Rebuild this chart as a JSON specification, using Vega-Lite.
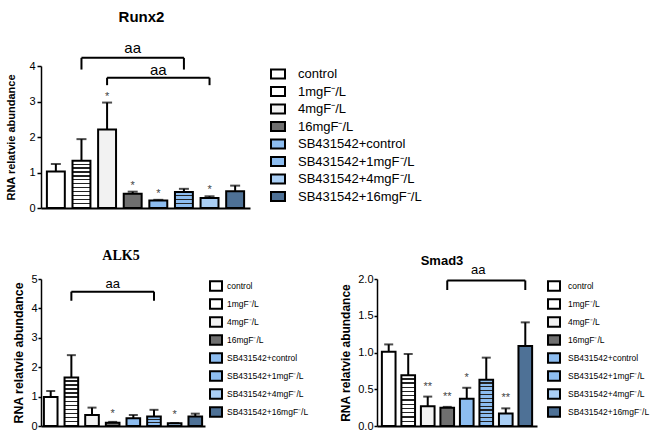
{
  "$schema": "https://vega.github.io/schema/vega-lite/v6.json",
  "background": "white",
  "padding": {"left": 5, "top": 9, "right": 0, "bottom": 5},
  "config": {
    "view": {"stroke": null},
    "font": "Liberation Sans",
    "axis": {"grid": false, "domainColor": "black", "tickColor": "black", "labelColor": "black", "titleColor": "black", "domainWidth": 1.5, "tickWidth": 1.5},
    "title": {"color": "black"}
  },
  "spacing": 36,
  "vconcat": [
    {
      "title": {"text": "Runx2", "font": "Liberation Sans", "fontSize": 15, "fontWeight": "bold", "frame": "group", "anchor": "middle", "offset": 16, "dx": -4},
      "width": 209,
      "height": 142,
      "data": {"values": [
        {"g": "control", "v": 1.03, "hi": 1.24, "sig": ""},
        {"g": "1mgF⁻/L", "v": 1.33, "hi": 1.94, "sig": ""},
        {"g": "4mgF⁻/L", "v": 2.21, "hi": 2.97, "sig": "*"},
        {"g": "16mgF⁻/L", "v": 0.40, "hi": 0.46, "sig": "*"},
        {"g": "SB431542+control", "v": 0.21, "hi": 0.23, "sig": "*"},
        {"g": "SB431542+1mgF⁻/L", "v": 0.45, "hi": 0.54, "sig": ""},
        {"g": "SB431542+4mgF⁻/L", "v": 0.28, "hi": 0.33, "sig": "*"},
        {"g": "SB431542+16mgF⁻/L", "v": 0.47, "hi": 0.63, "sig": ""}
      ]},
      "layer": [
        {
          "mark": {"type": "bar", "stroke": "black", "strokeWidth": 2},
          "encoding": {
            "x": {"field": "g", "type": "nominal", "scale": {"domain": ["control", "1mgF⁻/L", "4mgF⁻/L", "16mgF⁻/L", "SB431542+control", "SB431542+1mgF⁻/L", "SB431542+4mgF⁻/L", "SB431542+16mgF⁻/L"], "paddingInner": 0.3, "paddingOuter": 0.23}, "axis": {"labels": false, "ticks": false, "title": null, "domainColor": "black", "domainWidth": 2}},
            "y": {"field": "v", "type": "quantitative", "scale": {"domain": [0, 4], "nice": false}, "axis": {"title": "RNA relatvie abundance", "values": [0, 1, 2, 3, 4], "titleFontSize": 11, "titleFontWeight": "bold", "titleFont": "Liberation Sans", "titlePadding": 12, "labelFontSize": 11, "labelFont": "Liberation Sans", "tickSize": 4, "labelPadding": 2}},
            "fill": {
              "field": "g", "type": "nominal",
              "scale": {"domain": ["control", "1mgF⁻/L", "4mgF⁻/L", "16mgF⁻/L", "SB431542+control", "SB431542+1mgF⁻/L", "SB431542+4mgF⁻/L", "SB431542+16mgF⁻/L"], "range": ["#ffffff", "#ffffff", "#f2f2f2", "#6f6f6f", "#8dbdf0", "#8dbdf0", "#aacff5", "#4e7196"]},
              "condition": [
                {"test": "datum.g === '1mgF⁻/L'", "value": {"gradient": "linear", "x1": 0, "y1": 0, "x2": 0, "y2": 1, "stops": [
                  {"offset": 0, "color": "#ffffff"}, {"offset": 0.058, "color": "#ffffff"}, {"offset": 0.058, "color": "#222222"}, {"offset": 0.0833, "color": "#222222"},
                  {"offset": 0.0833, "color": "#ffffff"}, {"offset": 0.1417, "color": "#ffffff"}, {"offset": 0.1417, "color": "#222222"}, {"offset": 0.1667, "color": "#222222"},
                  {"offset": 0.1667, "color": "#ffffff"}, {"offset": 0.225, "color": "#ffffff"}, {"offset": 0.225, "color": "#222222"}, {"offset": 0.25, "color": "#222222"},
                  {"offset": 0.25, "color": "#ffffff"}, {"offset": 0.3083, "color": "#ffffff"}, {"offset": 0.3083, "color": "#222222"}, {"offset": 0.3333, "color": "#222222"},
                  {"offset": 0.3333, "color": "#ffffff"}, {"offset": 0.3917, "color": "#ffffff"}, {"offset": 0.3917, "color": "#222222"}, {"offset": 0.4167, "color": "#222222"},
                  {"offset": 0.4167, "color": "#ffffff"}, {"offset": 0.475, "color": "#ffffff"}, {"offset": 0.475, "color": "#222222"}, {"offset": 0.5, "color": "#222222"},
                  {"offset": 0.5, "color": "#ffffff"}, {"offset": 0.5583, "color": "#ffffff"}, {"offset": 0.5583, "color": "#222222"}, {"offset": 0.5833, "color": "#222222"},
                  {"offset": 0.5833, "color": "#ffffff"}, {"offset": 0.6417, "color": "#ffffff"}, {"offset": 0.6417, "color": "#222222"}, {"offset": 0.6667, "color": "#222222"},
                  {"offset": 0.6667, "color": "#ffffff"}, {"offset": 0.725, "color": "#ffffff"}, {"offset": 0.725, "color": "#222222"}, {"offset": 0.75, "color": "#222222"},
                  {"offset": 0.75, "color": "#ffffff"}, {"offset": 0.8083, "color": "#ffffff"}, {"offset": 0.8083, "color": "#222222"}, {"offset": 0.8333, "color": "#222222"},
                  {"offset": 0.8333, "color": "#ffffff"}, {"offset": 0.8917, "color": "#ffffff"}, {"offset": 0.8917, "color": "#222222"}, {"offset": 0.9167, "color": "#222222"},
                  {"offset": 0.9167, "color": "#ffffff"}, {"offset": 0.975, "color": "#ffffff"}, {"offset": 0.975, "color": "#222222"}, {"offset": 1, "color": "#222222"}]}},
                {"test": "datum.g === 'SB431542+1mgF⁻/L'", "value": {"gradient": "linear", "x1": 0, "y1": 0, "x2": 0, "y2": 1, "stops": [
                  {"offset": 0, "color": "#8dbdf0"}, {"offset": 0.175, "color": "#8dbdf0"}, {"offset": 0.175, "color": "#222222"}, {"offset": 0.25, "color": "#222222"},
                  {"offset": 0.25, "color": "#8dbdf0"}, {"offset": 0.425, "color": "#8dbdf0"}, {"offset": 0.425, "color": "#222222"}, {"offset": 0.5, "color": "#222222"},
                  {"offset": 0.5, "color": "#8dbdf0"}, {"offset": 0.675, "color": "#8dbdf0"}, {"offset": 0.675, "color": "#222222"}, {"offset": 0.75, "color": "#222222"},
                  {"offset": 0.75, "color": "#8dbdf0"}, {"offset": 0.925, "color": "#8dbdf0"}, {"offset": 0.925, "color": "#222222"}, {"offset": 1, "color": "#222222"}]}}
              ],
              "legend": {
                "title": null, "orient": "right", "offset": 20, "padding": 0,
                "symbolType": "M-1,-0.65H1V0.65H-1Z", "symbolSize": 196, "symbolStrokeColor": "black", "symbolStrokeWidth": 2,
                "labelFont": "Liberation Sans", "labelFontSize": 13, "labelColor": "black", "labelOffset": 12, "rowPadding": -0.5
              }
            }
          }
        },
        {"mark": {"type": "rule", "strokeWidth": 2, "color": "black"}, "encoding": {"x": {"field": "g", "type": "nominal", "axis": {"title": null}}, "y": {"field": "v", "type": "quantitative", "axis": {"title": "RNA relatvie abundance", "values": [0, 1, 2, 3, 4]}}, "y2": {"field": "hi"}}},
        {"mark": {"type": "tick", "thickness": 2, "size": 10, "color": "black"}, "encoding": {"x": {"field": "g", "type": "nominal", "axis": {"title": null}}, "y": {"field": "hi", "type": "quantitative", "axis": {"title": "RNA relatvie abundance", "values": [0, 1, 2, 3, 4]}}}},
        {"mark": {"type": "text", "fontSize": 11, "color": "#444444", "baseline": "middle", "dy": -6}, "encoding": {"x": {"field": "g", "type": "nominal", "axis": {"title": null}}, "y": {"field": "hi", "type": "quantitative", "axis": {"title": "RNA relatvie abundance", "values": [0, 1, 2, 3, 4]}}, "text": {"field": "sig"}}},
        {"data": {"values": [
          {"from": "1mgF⁻/L", "to": "SB431542+1mgF⁻/L", "mid": "16mgF⁻/L", "top": 4.23, "bot": 3.9, "ty": 4.51, "label": "aa"},
          {"from": "4mgF⁻/L", "to": "SB431542+4mgF⁻/L", "mid": "SB431542+control", "top": 3.67, "bot": 3.46, "ty": 3.9, "label": "aa"}
        ]},
          "layer": [
            {"mark": {"type": "rule", "strokeWidth": 2, "color": "black"}, "encoding": {"x": {"field": "from", "type": "nominal", "axis": {"title": null}, "bandPosition": 0.5}, "x2": {"field": "to", "bandPosition": 0.5}, "y": {"field": "top", "type": "quantitative", "axis": {"title": "RNA relatvie abundance", "values": [0, 1, 2, 3, 4]}}}},
            {"mark": {"type": "rule", "strokeWidth": 2, "color": "black"}, "encoding": {"x": {"field": "from", "type": "nominal", "axis": {"title": null}}, "y": {"field": "top", "type": "quantitative", "axis": {"title": "RNA relatvie abundance", "values": [0, 1, 2, 3, 4]}}, "y2": {"field": "bot"}}},
            {"mark": {"type": "rule", "strokeWidth": 2, "color": "black"}, "encoding": {"x": {"field": "to", "type": "nominal", "axis": {"title": null}}, "y": {"field": "top", "type": "quantitative", "axis": {"title": "RNA relatvie abundance", "values": [0, 1, 2, 3, 4]}}, "y2": {"field": "bot"}}},
            {"mark": {"type": "text", "fontSize": 15, "color": "black", "baseline": "middle", "font": "Liberation Sans"}, "encoding": {"x": {"field": "mid", "type": "nominal", "axis": {"title": null}}, "y": {"field": "ty", "type": "quantitative", "axis": {"title": "RNA relatvie abundance", "values": [0, 1, 2, 3, 4]}}, "text": {"field": "label"}}}
          ]
        }
      ]
    },
    {
      "spacing": 30,
      "hconcat": [
        {
          "title": {"text": "ALK5", "font": "Liberation Serif", "fontSize": 14, "fontWeight": "bold", "frame": "group", "anchor": "middle", "offset": 10, "dx": -2},
          "width": 164,
          "height": 147,
          "data": {"values": [
            {"g": "control", "v": 0.99, "hi": 1.19, "sig": ""},
            {"g": "1mgF⁻/L", "v": 1.65, "hi": 2.41, "sig": ""},
            {"g": "4mgF⁻/L", "v": 0.375, "hi": 0.625, "sig": ""},
            {"g": "16mgF⁻/L", "v": 0.11, "hi": 0.14, "sig": "*"},
            {"g": "SB431542+control", "v": 0.26, "hi": 0.375, "sig": ""},
            {"g": "SB431542+1mgF⁻/L", "v": 0.32, "hi": 0.55, "sig": ""},
            {"g": "SB431542+4mgF⁻/L", "v": 0.09, "hi": 0.1, "sig": "*"},
            {"g": "SB431542+16mgF⁻/L", "v": 0.32, "hi": 0.42, "sig": ""}
          ]},
          "layer": [
            {
              "mark": {"type": "bar", "stroke": "black", "strokeWidth": 2},
              "encoding": {
                "x": {"field": "g", "type": "nominal", "scale": {"domain": ["control", "1mgF⁻/L", "4mgF⁻/L", "16mgF⁻/L", "SB431542+control", "SB431542+1mgF⁻/L", "SB431542+4mgF⁻/L", "SB431542+16mgF⁻/L"], "paddingInner": 0.34, "paddingOuter": 0.14}, "axis": {"labels": false, "ticks": false, "title": null, "domainColor": "black", "domainWidth": 2}},
                "y": {"field": "v", "type": "quantitative", "scale": {"domain": [0, 5], "nice": false}, "axis": {"title": "RNA relatvie abundance", "values": [0, 1, 2, 3, 4, 5], "titleFontSize": 12.3, "titleFontWeight": "bold", "titleFont": "Liberation Sans", "titlePadding": 5, "labelFontSize": 11, "labelFont": "Liberation Sans", "tickSize": 3, "labelPadding": 1}},
                "fill": {
                  "field": "g", "type": "nominal",
                  "scale": {"domain": ["control", "1mgF⁻/L", "4mgF⁻/L", "16mgF⁻/L", "SB431542+control", "SB431542+1mgF⁻/L", "SB431542+4mgF⁻/L", "SB431542+16mgF⁻/L"], "range": ["#ffffff", "#ffffff", "#f2f2f2", "#6f6f6f", "#8dbdf0", "#8dbdf0", "#aacff5", "#4e7196"]},
                  "condition": [
                    {"test": "datum.g === '1mgF⁻/L'", "value": {"gradient": "linear", "x1": 0, "y1": 0, "x2": 0, "y2": 1, "stops": [
                      {"offset": 0, "color": "#ffffff"}, {"offset": 0.058, "color": "#ffffff"}, {"offset": 0.058, "color": "#222222"}, {"offset": 0.0833, "color": "#222222"},
                      {"offset": 0.0833, "color": "#ffffff"}, {"offset": 0.1417, "color": "#ffffff"}, {"offset": 0.1417, "color": "#222222"}, {"offset": 0.1667, "color": "#222222"},
                      {"offset": 0.1667, "color": "#ffffff"}, {"offset": 0.225, "color": "#ffffff"}, {"offset": 0.225, "color": "#222222"}, {"offset": 0.25, "color": "#222222"},
                      {"offset": 0.25, "color": "#ffffff"}, {"offset": 0.3083, "color": "#ffffff"}, {"offset": 0.3083, "color": "#222222"}, {"offset": 0.3333, "color": "#222222"},
                      {"offset": 0.3333, "color": "#ffffff"}, {"offset": 0.3917, "color": "#ffffff"}, {"offset": 0.3917, "color": "#222222"}, {"offset": 0.4167, "color": "#222222"},
                      {"offset": 0.4167, "color": "#ffffff"}, {"offset": 0.475, "color": "#ffffff"}, {"offset": 0.475, "color": "#222222"}, {"offset": 0.5, "color": "#222222"},
                      {"offset": 0.5, "color": "#ffffff"}, {"offset": 0.5583, "color": "#ffffff"}, {"offset": 0.5583, "color": "#222222"}, {"offset": 0.5833, "color": "#222222"},
                      {"offset": 0.5833, "color": "#ffffff"}, {"offset": 0.6417, "color": "#ffffff"}, {"offset": 0.6417, "color": "#222222"}, {"offset": 0.6667, "color": "#222222"},
                      {"offset": 0.6667, "color": "#ffffff"}, {"offset": 0.725, "color": "#ffffff"}, {"offset": 0.725, "color": "#222222"}, {"offset": 0.75, "color": "#222222"},
                      {"offset": 0.75, "color": "#ffffff"}, {"offset": 0.8083, "color": "#ffffff"}, {"offset": 0.8083, "color": "#222222"}, {"offset": 0.8333, "color": "#222222"},
                      {"offset": 0.8333, "color": "#ffffff"}, {"offset": 0.8917, "color": "#ffffff"}, {"offset": 0.8917, "color": "#222222"}, {"offset": 0.9167, "color": "#222222"},
                      {"offset": 0.9167, "color": "#ffffff"}, {"offset": 0.975, "color": "#ffffff"}, {"offset": 0.975, "color": "#222222"}, {"offset": 1, "color": "#222222"}]}},
                    {"test": "datum.g === 'SB431542+1mgF⁻/L'", "value": {"gradient": "linear", "x1": 0, "y1": 0, "x2": 0, "y2": 1, "stops": [
                      {"offset": 0, "color": "#8dbdf0"}, {"offset": 0.233, "color": "#8dbdf0"}, {"offset": 0.233, "color": "#222222"}, {"offset": 0.333, "color": "#222222"},
                      {"offset": 0.333, "color": "#8dbdf0"}, {"offset": 0.567, "color": "#8dbdf0"}, {"offset": 0.567, "color": "#222222"}, {"offset": 0.667, "color": "#222222"},
                      {"offset": 0.667, "color": "#8dbdf0"}, {"offset": 0.9, "color": "#8dbdf0"}, {"offset": 0.9, "color": "#222222"}, {"offset": 1, "color": "#222222"}]}}
                  ],
                  "legend": {
                    "title": null, "orient": "right", "offset": 4, "padding": 0,
                    "symbolType": "M-1,-0.8H1V0.8H-1Z", "symbolSize": 144, "symbolStrokeColor": "black", "symbolStrokeWidth": 2,
                    "labelFont": "Liberation Sans", "labelFontSize": 8.5, "labelColor": "black", "labelOffset": 4, "rowPadding": 0
                  }
                }
              }
            },
            {"mark": {"type": "rule", "strokeWidth": 2, "color": "black"}, "encoding": {"x": {"field": "g", "type": "nominal", "axis": {"title": null}}, "y": {"field": "v", "type": "quantitative", "axis": {"title": "RNA relatvie abundance", "values": [0, 1, 2, 3, 4, 5]}}, "y2": {"field": "hi"}}},
            {"mark": {"type": "tick", "thickness": 2, "size": 9, "color": "black"}, "encoding": {"x": {"field": "g", "type": "nominal", "axis": {"title": null}}, "y": {"field": "hi", "type": "quantitative", "axis": {"title": "RNA relatvie abundance", "values": [0, 1, 2, 3, 4, 5]}}}},
            {"mark": {"type": "text", "fontSize": 11, "color": "#444444", "baseline": "middle", "dy": -8}, "encoding": {"x": {"field": "g", "type": "nominal", "axis": {"title": null}}, "y": {"field": "hi", "type": "quantitative", "axis": {"title": "RNA relatvie abundance", "values": [0, 1, 2, 3, 4, 5]}}, "text": {"field": "sig"}}},
            {"data": {"values": [
              {"from": "1mgF⁻/L", "to": "SB431542+1mgF⁻/L", "mid": "16mgF⁻/L", "top": 4.57, "bot": 4.26, "ty": 4.83, "label": "aa"}
            ]},
              "layer": [
                {"mark": {"type": "rule", "strokeWidth": 2, "color": "black"}, "encoding": {"x": {"field": "from", "type": "nominal", "axis": {"title": null}, "bandPosition": 0.5}, "x2": {"field": "to", "bandPosition": 0.5}, "y": {"field": "top", "type": "quantitative", "axis": {"title": "RNA relatvie abundance", "values": [0, 1, 2, 3, 4, 5]}}}},
                {"mark": {"type": "rule", "strokeWidth": 2, "color": "black"}, "encoding": {"x": {"field": "from", "type": "nominal", "axis": {"title": null}}, "y": {"field": "top", "type": "quantitative", "axis": {"title": "RNA relatvie abundance", "values": [0, 1, 2, 3, 4, 5]}}, "y2": {"field": "bot"}}},
                {"mark": {"type": "rule", "strokeWidth": 2, "color": "black"}, "encoding": {"x": {"field": "to", "type": "nominal", "axis": {"title": null}}, "y": {"field": "top", "type": "quantitative", "axis": {"title": "RNA relatvie abundance", "values": [0, 1, 2, 3, 4, 5]}}, "y2": {"field": "bot"}}},
                {"mark": {"type": "text", "fontSize": 13, "color": "black", "baseline": "middle", "font": "Liberation Sans"}, "encoding": {"x": {"field": "mid", "type": "nominal", "axis": {"title": null}}, "y": {"field": "ty", "type": "quantitative", "axis": {"title": "RNA relatvie abundance", "values": [0, 1, 2, 3, 4, 5]}}, "text": {"field": "label"}}}
              ]
            }
          ]
        },
        {
          "title": {"text": "Smad3", "font": "Liberation Sans", "fontSize": 13, "fontWeight": "bold", "frame": "group", "anchor": "middle", "offset": -4, "dx": -15},
          "width": 160,
          "height": 147,
          "data": {"values": [
            {"g": "control", "v": 1.01, "hi": 1.11, "sig": ""},
            {"g": "1mgF⁻/L", "v": 0.69, "hi": 0.98, "sig": ""},
            {"g": "4mgF⁻/L", "v": 0.27, "hi": 0.40, "sig": "**"},
            {"g": "16mgF⁻/L", "v": 0.25, "hi": 0.26, "sig": "**"},
            {"g": "SB431542+control", "v": 0.37, "hi": 0.52, "sig": "*"},
            {"g": "SB431542+1mgF⁻/L", "v": 0.63, "hi": 0.93, "sig": ""},
            {"g": "SB431542+4mgF⁻/L", "v": 0.17, "hi": 0.24, "sig": "**"},
            {"g": "SB431542+16mgF⁻/L", "v": 1.09, "hi": 1.41, "sig": ""}
          ]},
          "layer": [
            {
              "mark": {"type": "bar", "stroke": "black", "strokeWidth": 2},
              "encoding": {
                "x": {"field": "g", "type": "nominal", "scale": {"domain": ["control", "1mgF⁻/L", "4mgF⁻/L", "16mgF⁻/L", "SB431542+control", "SB431542+1mgF⁻/L", "SB431542+4mgF⁻/L", "SB431542+16mgF⁻/L"], "paddingInner": 0.3, "paddingOuter": 0.25}, "axis": {"labels": false, "ticks": false, "title": null, "domainColor": "black", "domainWidth": 2}},
                "y": {"field": "v", "type": "quantitative", "scale": {"domain": [0, 2], "nice": false}, "axis": {"title": "RNA relatvie abundance", "values": [0, 0.5, 1, 1.5, 2], "format": ".1f", "titleFontSize": 12, "titleFontWeight": "bold", "titleFont": "Liberation Sans", "titlePadding": 5, "labelFontSize": 11, "labelFont": "Liberation Sans", "tickSize": 3, "labelPadding": 1}},
                "fill": {
                  "field": "g", "type": "nominal",
                  "scale": {"domain": ["control", "1mgF⁻/L", "4mgF⁻/L", "16mgF⁻/L", "SB431542+control", "SB431542+1mgF⁻/L", "SB431542+4mgF⁻/L", "SB431542+16mgF⁻/L"], "range": ["#ffffff", "#ffffff", "#f2f2f2", "#6f6f6f", "#8dbdf0", "#8dbdf0", "#aacff5", "#4e7196"]},
                  "condition": [
                    {"test": "datum.g === '1mgF⁻/L'", "value": {"gradient": "linear", "x1": 0, "y1": 0, "x2": 0, "y2": 1, "stops": [
                      {"offset": 0, "color": "#ffffff"}, {"offset": 0.058, "color": "#ffffff"}, {"offset": 0.058, "color": "#222222"}, {"offset": 0.0833, "color": "#222222"},
                      {"offset": 0.0833, "color": "#ffffff"}, {"offset": 0.1417, "color": "#ffffff"}, {"offset": 0.1417, "color": "#222222"}, {"offset": 0.1667, "color": "#222222"},
                      {"offset": 0.1667, "color": "#ffffff"}, {"offset": 0.225, "color": "#ffffff"}, {"offset": 0.225, "color": "#222222"}, {"offset": 0.25, "color": "#222222"},
                      {"offset": 0.25, "color": "#ffffff"}, {"offset": 0.3083, "color": "#ffffff"}, {"offset": 0.3083, "color": "#222222"}, {"offset": 0.3333, "color": "#222222"},
                      {"offset": 0.3333, "color": "#ffffff"}, {"offset": 0.3917, "color": "#ffffff"}, {"offset": 0.3917, "color": "#222222"}, {"offset": 0.4167, "color": "#222222"},
                      {"offset": 0.4167, "color": "#ffffff"}, {"offset": 0.475, "color": "#ffffff"}, {"offset": 0.475, "color": "#222222"}, {"offset": 0.5, "color": "#222222"},
                      {"offset": 0.5, "color": "#ffffff"}, {"offset": 0.5583, "color": "#ffffff"}, {"offset": 0.5583, "color": "#222222"}, {"offset": 0.5833, "color": "#222222"},
                      {"offset": 0.5833, "color": "#ffffff"}, {"offset": 0.6417, "color": "#ffffff"}, {"offset": 0.6417, "color": "#222222"}, {"offset": 0.6667, "color": "#222222"},
                      {"offset": 0.6667, "color": "#ffffff"}, {"offset": 0.725, "color": "#ffffff"}, {"offset": 0.725, "color": "#222222"}, {"offset": 0.75, "color": "#222222"},
                      {"offset": 0.75, "color": "#ffffff"}, {"offset": 0.8083, "color": "#ffffff"}, {"offset": 0.8083, "color": "#222222"}, {"offset": 0.8333, "color": "#222222"},
                      {"offset": 0.8333, "color": "#ffffff"}, {"offset": 0.8917, "color": "#ffffff"}, {"offset": 0.8917, "color": "#222222"}, {"offset": 0.9167, "color": "#222222"},
                      {"offset": 0.9167, "color": "#ffffff"}, {"offset": 0.975, "color": "#ffffff"}, {"offset": 0.975, "color": "#222222"}, {"offset": 1, "color": "#222222"}]}},
                    {"test": "datum.g === 'SB431542+1mgF⁻/L'", "value": {"gradient": "linear", "x1": 0, "y1": 0, "x2": 0, "y2": 1, "stops": [
                      {"offset": 0, "color": "#8dbdf0"}, {"offset": 0.058, "color": "#8dbdf0"}, {"offset": 0.058, "color": "#222222"}, {"offset": 0.0833, "color": "#222222"},
                      {"offset": 0.0833, "color": "#8dbdf0"}, {"offset": 0.1417, "color": "#8dbdf0"}, {"offset": 0.1417, "color": "#222222"}, {"offset": 0.1667, "color": "#222222"},
                      {"offset": 0.1667, "color": "#8dbdf0"}, {"offset": 0.225, "color": "#8dbdf0"}, {"offset": 0.225, "color": "#222222"}, {"offset": 0.25, "color": "#222222"},
                      {"offset": 0.25, "color": "#8dbdf0"}, {"offset": 0.3083, "color": "#8dbdf0"}, {"offset": 0.3083, "color": "#222222"}, {"offset": 0.3333, "color": "#222222"},
                      {"offset": 0.3333, "color": "#8dbdf0"}, {"offset": 0.3917, "color": "#8dbdf0"}, {"offset": 0.3917, "color": "#222222"}, {"offset": 0.4167, "color": "#222222"},
                      {"offset": 0.4167, "color": "#8dbdf0"}, {"offset": 0.475, "color": "#8dbdf0"}, {"offset": 0.475, "color": "#222222"}, {"offset": 0.5, "color": "#222222"},
                      {"offset": 0.5, "color": "#8dbdf0"}, {"offset": 0.5583, "color": "#8dbdf0"}, {"offset": 0.5583, "color": "#222222"}, {"offset": 0.5833, "color": "#222222"},
                      {"offset": 0.5833, "color": "#8dbdf0"}, {"offset": 0.6417, "color": "#8dbdf0"}, {"offset": 0.6417, "color": "#222222"}, {"offset": 0.6667, "color": "#222222"},
                      {"offset": 0.6667, "color": "#8dbdf0"}, {"offset": 0.725, "color": "#8dbdf0"}, {"offset": 0.725, "color": "#222222"}, {"offset": 0.75, "color": "#222222"},
                      {"offset": 0.75, "color": "#8dbdf0"}, {"offset": 0.8083, "color": "#8dbdf0"}, {"offset": 0.8083, "color": "#222222"}, {"offset": 0.8333, "color": "#222222"},
                      {"offset": 0.8333, "color": "#8dbdf0"}, {"offset": 0.8917, "color": "#8dbdf0"}, {"offset": 0.8917, "color": "#222222"}, {"offset": 0.9167, "color": "#222222"},
                      {"offset": 0.9167, "color": "#8dbdf0"}, {"offset": 0.975, "color": "#8dbdf0"}, {"offset": 0.975, "color": "#222222"}, {"offset": 1, "color": "#222222"}]}}
                  ],
                  "legend": {
                    "title": null, "orient": "right", "offset": 10, "padding": 0,
                    "symbolType": "M-1,-0.8H1V0.8H-1Z", "symbolSize": 144, "symbolStrokeColor": "black", "symbolStrokeWidth": 2,
                    "labelFont": "Liberation Sans", "labelFontSize": 8.5, "labelColor": "black", "labelOffset": 7, "rowPadding": 0
                  }
                }
              }
            },
            {"mark": {"type": "rule", "strokeWidth": 2, "color": "black"}, "encoding": {"x": {"field": "g", "type": "nominal", "axis": {"title": null}}, "y": {"field": "v", "type": "quantitative", "axis": {"title": "RNA relatvie abundance", "values": [0, 0.5, 1, 1.5, 2]}}, "y2": {"field": "hi"}}},
            {"mark": {"type": "tick", "thickness": 2, "size": 9, "color": "black"}, "encoding": {"x": {"field": "g", "type": "nominal", "axis": {"title": null}}, "y": {"field": "hi", "type": "quantitative", "axis": {"title": "RNA relatvie abundance", "values": [0, 0.5, 1, 1.5, 2]}}}},
            {"mark": {"type": "text", "fontSize": 11, "color": "#444444", "baseline": "middle", "dy": -10}, "encoding": {"x": {"field": "g", "type": "nominal", "axis": {"title": null}}, "y": {"field": "hi", "type": "quantitative", "axis": {"title": "RNA relatvie abundance", "values": [0, 0.5, 1, 1.5, 2]}}, "text": {"field": "sig"}}},
            {"data": {"values": [
              {"from": "16mgF⁻/L", "to": "SB431542+16mgF⁻/L", "mid": "SB431542+1mgF⁻/L", "top": 1.98, "bot": 1.85, "ty": 2.12, "label": "aa"}
            ]},
              "layer": [
                {"mark": {"type": "rule", "strokeWidth": 2, "color": "black"}, "encoding": {"x": {"field": "from", "type": "nominal", "axis": {"title": null}, "bandPosition": 0.5}, "x2": {"field": "to", "bandPosition": 0.5}, "y": {"field": "top", "type": "quantitative", "axis": {"title": "RNA relatvie abundance", "values": [0, 0.5, 1, 1.5, 2]}}}},
                {"mark": {"type": "rule", "strokeWidth": 2, "color": "black"}, "encoding": {"x": {"field": "from", "type": "nominal", "axis": {"title": null}}, "y": {"field": "top", "type": "quantitative", "axis": {"title": "RNA relatvie abundance", "values": [0, 0.5, 1, 1.5, 2]}}, "y2": {"field": "bot"}}},
                {"mark": {"type": "rule", "strokeWidth": 2, "color": "black"}, "encoding": {"x": {"field": "to", "type": "nominal", "axis": {"title": null}}, "y": {"field": "top", "type": "quantitative", "axis": {"title": "RNA relatvie abundance", "values": [0, 0.5, 1, 1.5, 2]}}, "y2": {"field": "bot"}}},
                {"mark": {"type": "text", "fontSize": 13, "color": "black", "baseline": "middle", "font": "Liberation Sans", "dx": -8}, "encoding": {"x": {"field": "mid", "type": "nominal", "axis": {"title": null}}, "y": {"field": "ty", "type": "quantitative", "axis": {"title": "RNA relatvie abundance", "values": [0, 0.5, 1, 1.5, 2]}}, "text": {"field": "label"}}}
              ]
            }
          ]
        }
      ],
      "resolve": {"scale": {"fill": "independent", "x": "independent", "y": "independent"}, "legend": {"fill": "independent"}}
    }
  ],
  "resolve": {"scale": {"fill": "independent", "x": "independent", "y": "independent"}, "legend": {"fill": "independent"}}
}
